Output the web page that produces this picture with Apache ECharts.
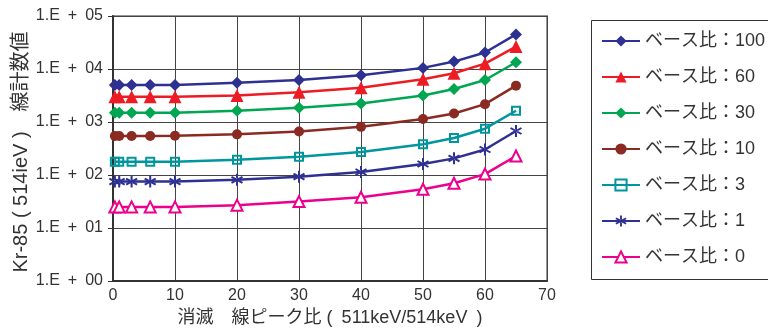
<!DOCTYPE html>
<html><head><meta charset="utf-8">
<script src="https://cdn.jsdelivr.net/npm/echarts@6/dist/echarts.min.js"></script>
<style>html,body{margin:0;padding:0;background:#fff}#c{width:768px;height:330px}</style>
</head><body><div id="c"></div>
<script>
const xValues = [0.3, 1, 3, 6, 10, 20, 30, 40, 50, 55, 60, 65];
const seriesNames = ['ベース比：100','ベース比：60','ベース比：30','ベース比：10','ベース比：3','ベース比：1','ベース比：0'];
const s100 = [5000, 5000, 5000, 5000, 5000, 5500, 6200, 7600, 10500, 13800, 20500, 45000];
const s60  = [3000, 3000, 3000, 3000, 3000, 3150, 3650, 4450, 6400, 8300, 12600, 26500];
const s30  = [1500, 1500, 1500, 1500, 1500, 1630, 1860, 2240, 3170, 4200, 6200, 13400];
const s10  = [545, 545, 545, 545, 550, 585, 660, 810, 1140, 1450, 2170, 4850];
const s3   = [178, 178, 178, 178, 178, 194, 220, 272, 380, 500, 748, 1630];
const s1   = [75, 75, 75, 75, 75, 81, 93, 114, 161, 206, 303, 676];
const s0   = [25, 25, 25, 25, 25, 27, 31.5, 38, 54, 70, 104, 228];
const yTickExponents = ['00','01','02','03','04','05'];

const allData = [s100, s60, s30, s10, s3, s1, s0];
const colors = ['#2e3192','#ed1c24','#00a651','#8b2a22','#00969e','#2e3192','#ec008c'];
const asterisk = 'path://M-1.6,-10L1.6,-10L1.6,10L-1.6,10Z M7.86,6.39L9.46,3.61L-7.86,-6.39L-9.46,-3.61Z M-7.86,6.39L-9.46,3.61L7.86,-6.39L9.46,-3.61Z';
const symbols = [
  {symbol:'diamond', size:12, fill:null},
  {symbol:'triangle', size:13, fill:null},
  {symbol:'diamond', size:12, fill:null},
  {symbol:'circle', size:10, fill:null},
  {symbol:'rect', size:8, fill:'transparent'},
  {symbol:asterisk, size:12, fill:null},
  {symbol:'triangle', size:11, fill:'#fff'}
];
const FONT = '"Liberation Sans", Arial, "Noto Sans CJK JP", sans-serif';

const series = allData.map((arr, i) => ({
  name: seriesNames[i],
  type: 'line',
  data: xValues.map((x, j) => [x, arr[j]]),
  symbol: symbols[i].symbol,
  symbolSize: symbols[i].size,
  showAllSymbol: true,
  lineStyle: {color: colors[i], width: 2.5},
  itemStyle: symbols[i].fill ? {color: symbols[i].fill, borderColor: colors[i], borderWidth: 2} : {color: colors[i], borderWidth: 0},
  z: 10 - i
}));

const chart = echarts.init(document.getElementById('c'), null, {renderer: 'canvas'});
chart.setOption({
  animation: false,
  textStyle: {fontFamily: FONT},
  grid: {left: 113, right: 221, top: 16, bottom: 49, show: true, borderColor: '#999', borderWidth: 2,
         containLabel: false, outerBoundsMode: 'none'},
  xAxis: {
    type: 'value', min: 0, max: 70, interval: 10,
    name: '消滅　線ピーク比 (\u2002511keV/514keV\u2002)',
    nameLocation: 'middle', nameGap: 28, nameMoveOverlap: false,
    nameTextStyle: {fontSize: 18, color: '#333', fontFamily: FONT},
    axisLine: {lineStyle: {color: '#333', width: 2}},
    axisTick: {show: false},
    axisLabel: {fontSize: 16, color: '#333', margin: 7},
    splitLine: {show: true, lineStyle: {color: '#444', width: 1}}
  },
  yAxis: {
    type: 'log', logBase: 10, min: 1, max: 100000,
    name: 'Kr-85 ( 514ieV )　線計数値',
    nameLocation: 'middle', nameGap: 82, nameRotate: 90, nameMoveOverlap: false,
    nameTextStyle: {fontSize: 20, color: '#333', fontFamily: FONT, padding: [0, 7, 0, 0]},
    axisLine: {lineStyle: {color: '#333', width: 2}},
    axisTick: {show: true, inside: false, length: 5, lineStyle: {color: '#333'}},
    axisLabel: {fontSize: 16, color: '#333', margin: 10,
      formatter: v => '1.E\u2002+\u2002' + yTickExponents[Math.round(Math.log10(v))]},
    splitLine: {show: true, lineStyle: {color: '#444', width: 1}}
  },
  graphic: [{
    type: 'rect', z: 100,
    shape: {x: 591.5, y: 20.5, width: 200, height: 259},
    style: {fill: 'none', stroke: '#333', lineWidth: 1}
  }],
  legend: {
    orient: 'vertical', left: 601, top: 32,
    padding: 0,
    itemWidth: 38, itemHeight: 14, itemGap: 18,
    textStyle: {fontSize: 18, lineHeight: 18, color: '#333', fontFamily: FONT},
    data: seriesNames
  },
  series: series
});
</script></body></html>
